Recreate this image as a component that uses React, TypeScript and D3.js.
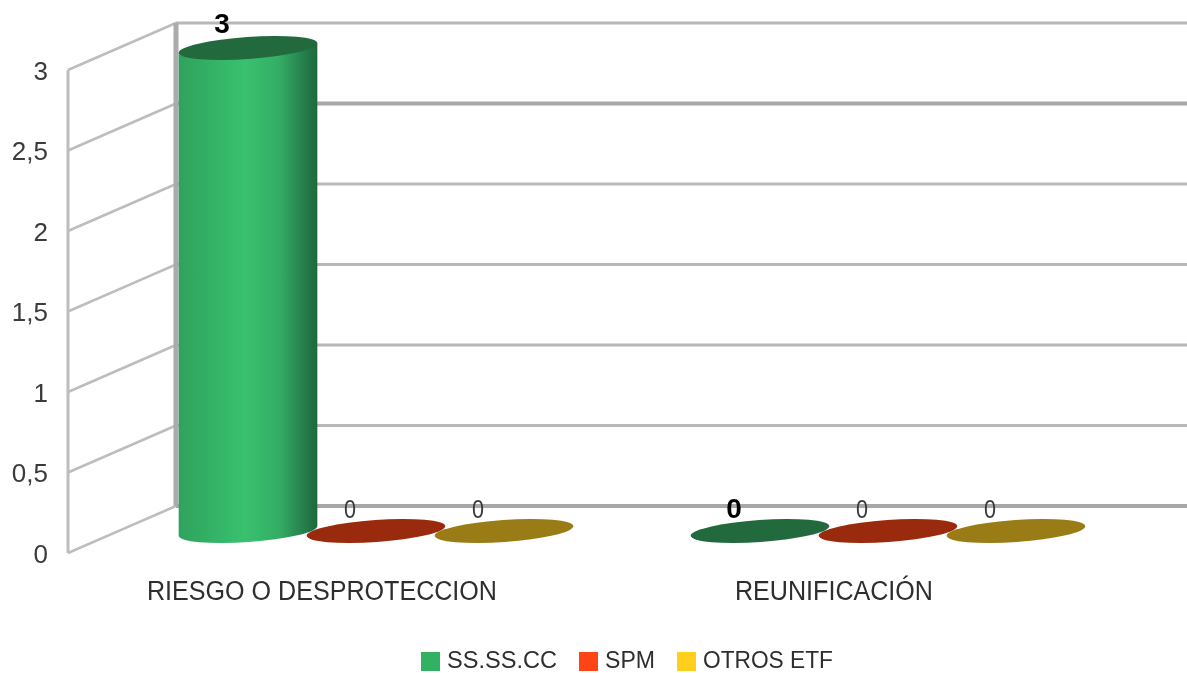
import { useEffect, useRef } from "react"
import * as d3 from "d3"

const categories = ["RIESGO O DESPROTECCION", "REUNIFICACIÓN"]
const seriesNames = ["SS.SS.CC", "SPM", "OTROS ETF"]
const ssValues = [3, 0]
const spmValues = [0, 0]
const otrosValues = [0, 0]
const yTicks = [0, 0.5, 1, 1.5, 2, 2.5, 3]

const legendColors = ["#33b163", "#ff4415", "#ffcf1e"]
const topColors = ["#226b3e", "#992b09", "#9a7b13"]
const categoryWidths = [350, 198]
const legendWidths = [110, 50, 130]
const font = "'Liberation Sans', Arial, sans-serif"

export default function App() {
  const svgRef = useRef<SVGSVGElement>(null)

  useEffect(() => {
    if (!svgRef.current) return
    const svg = d3.select(svgRef.current)

    // Clear previous
    svg.selectAll("*").remove()

    const width = 1187
    const height = 673
    const depth = { x: 108, y: -47 }
    const barRx = 69.5
    const barRy = 11
    const tilt = -4

    svg.attr("width", width).attr("height", height)

    const y = d3.scaleLinear().domain([0, 3]).range([553, 70])
    const x0 = d3.scaleBand().domain(categories).range([120, 1144])
    const x1 = d3.scaleBand().domain(seriesNames).range([-192, 192])
    const barX = (cat: string, s: string) => x0(cat)! + x0.bandwidth() / 2 + x1(s)! + x1.bandwidth() / 2
    const barY = (v: number) => y(v) - 22

    const defs = svg.append("defs")
    const grad = defs.append("linearGradient").attr("id", "cyl0")
    const stops: [string, string][] = [
      ["0%", "#2fa25d"],
      ["48%", "#39c16f"],
      ["72%", "#33ae65"],
      ["88%", "#288450"],
      ["100%", "#1f673b"],
    ]
    stops.forEach(([o, c]) => grad.append("stop").attr("offset", o).attr("stop-color", c))
    defs.append("filter").attr("id", "soft")
      .attr("filterUnits", "userSpaceOnUse")
      .attr("x", 0).attr("y", 0).attr("width", width).attr("height", height)
      .append("feGaussianBlur").attr("stdDeviation", 0.55)

    const root = svg.append("g").attr("filter", "url(#soft)")

    // Back wall and side wall grid
    const grid = root.append("g").attr("stroke", "#b4b4b4").attr("fill", "none")
    yTicks.forEach(t => {
      const heavy = t === 0 || t === 2.5
      grid.append("line")
        .attr("x1", 68 + depth.x).attr("x2", width)
        .attr("y1", y(t) + depth.y).attr("y2", y(t) + depth.y)
        .attr("stroke", heavy ? "#a8a8a8" : "#b8b8b8")
        .attr("stroke-width", heavy ? 4 : 3)
      grid.append("line")
        .attr("x1", 68).attr("x2", 68 + depth.x)
        .attr("y1", y(t)).attr("y2", y(t) + depth.y)
        .attr("stroke", "#bdbdbd")
        .attr("stroke-width", 2.5)
    })
    grid.append("line").attr("x1", 68).attr("x2", 68).attr("y1", y(3)).attr("y2", y(0))
      .attr("stroke", "#bdbdbd").attr("stroke-width", 3)
    grid.append("line").attr("x1", 176).attr("x2", 176).attr("y1", y(3) + depth.y).attr("y2", y(0) + depth.y)
      .attr("stroke", "#ababab").attr("stroke-width", 5)

    // Y axis
    const axis = root.append("g")
      .attr("transform", "translate(48,0)")
      .call(d3.axisLeft(y).tickValues(yTicks).tickSize(0).tickPadding(0)
        .tickFormat(d => String(d).replace(".", ",")))
    axis.select(".domain").remove()
    axis.selectAll(".tick text")
      .attr("fill", "#3a3a3a")
      .attr("font-family", font)
      .attr("font-size", 26)
      .attr("dy", "0.36em")

    // Cylinders
    const rows = [ssValues, spmValues, otrosValues]
    seriesNames.forEach((s, si) => {
      categories.forEach((cat, ci) => {
        const v = rows[si][ci]
        const cx = barX(cat, s)
        const top = barY(v)
        const base = barY(0)
        const rad = (tilt * Math.PI) / 180
        const ex = barRx * Math.cos(rad)
        const ey = barRx * Math.sin(rad)
        const g = root.append("g")
        if (v > 0) {
          // side of the cylinder: down the left edge, round the front of the base, up the right edge
          g.append("path")
            .attr("d", `M${cx - ex},${top - ey} L${cx - ex},${base - ey}
              A${barRx},${barRy} ${tilt} 0 0 ${cx + ex},${base + ey}
              L${cx + ex},${top + ey} Z`)
            .attr("fill", `url(#cyl${si})`)
        }
        g.append("ellipse")
          .attr("cx", cx).attr("cy", top)
          .attr("rx", barRx).attr("ry", barRy)
          .attr("transform", `rotate(${tilt} ${cx} ${top})`)
          .attr("fill", topColors[si])

        // value label
        const bold = si === 0
        root.append("text")
          .attr("x", cx - 26)
          .attr("y", top - 13 - (bold && v > 0 ? 2 : 0))
          .attr("text-anchor", "middle")
          .attr("font-family", font)
          .attr("font-size", bold ? 28 : 26)
          .attr("font-weight", bold ? 700 : 400)
          .attr("fill", bold ? "#000" : "#3a3a3a")
          .attr("textLength", bold ? null : 12)
          .attr("lengthAdjust", "spacingAndGlyphs")
          .text(v)
      })
    })

    // Category labels
    categories.forEach((cat, i) => {
      root.append("text")
        .attr("x", x0(cat)! + x0.bandwidth() / 2 + depth.y - 7)
        .attr("y", 600)
        .attr("text-anchor", "middle")
        .attr("font-family", font)
        .attr("font-size", 27)
        .attr("fill", "#2e2e2e")
        .attr("textLength", categoryWidths[i])
        .attr("lengthAdjust", "spacingAndGlyphs")
        .text(cat)
    })

    // Legend
    let lx = 421
    seriesNames.forEach((s, i) => {
      root.append("rect")
        .attr("x", lx).attr("y", 652).attr("width", 19).attr("height", 19)
        .attr("fill", legendColors[i])
      root.append("text")
        .attr("x", lx + 26)
        .attr("y", 668)
        .attr("font-family", font)
        .attr("font-size", 23.5)
        .attr("fill", "#2e2e2e")
        .attr("textLength", legendWidths[i])
        .attr("lengthAdjust", "spacingAndGlyphs")
        .text(s)
      lx += 26 + legendWidths[i] + 22
    })
  }, [])

  return (
    <svg ref={svgRef} style={{ position: "absolute", left: 0, top: 0, background: "#fff" }}></svg>
  )
}
